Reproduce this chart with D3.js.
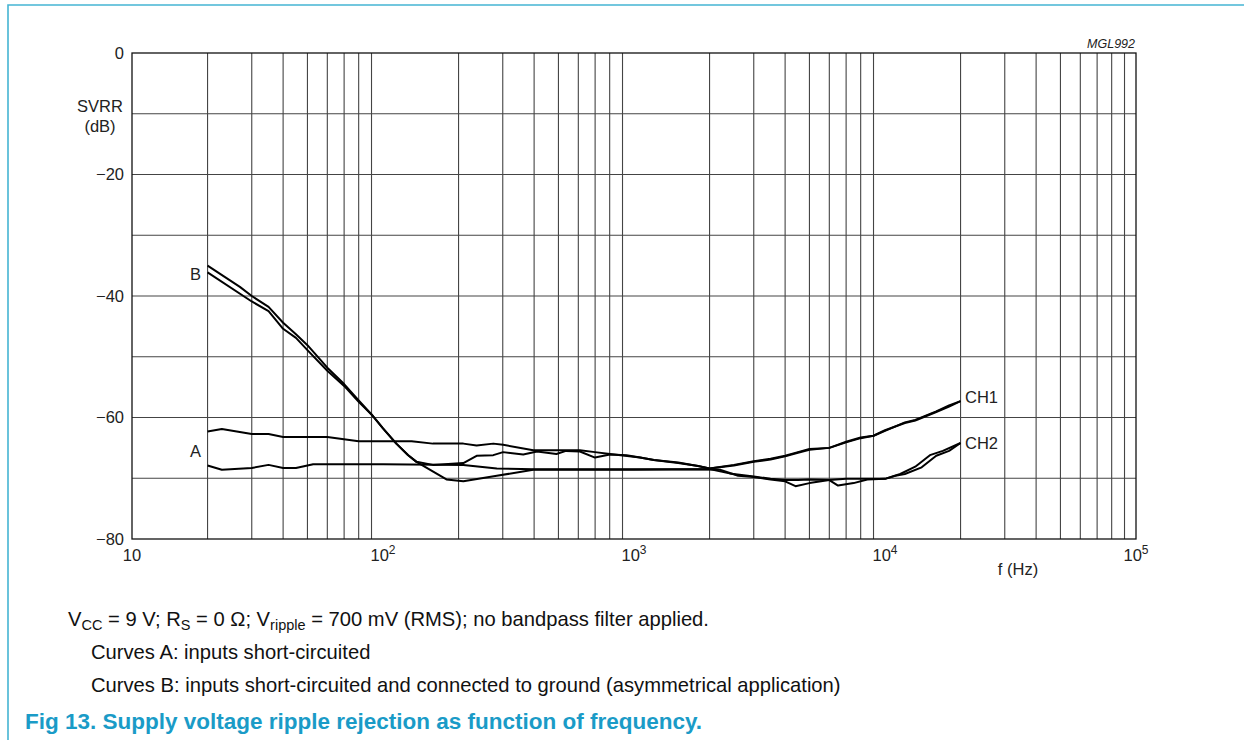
<!DOCTYPE html>
<html>
<head>
<meta charset="utf-8">
<script src="https://cdn.jsdelivr.net/npm/d3@7/dist/d3.min.js"></script>
<style>
  body { margin: 0; background: #fff; }
  svg { display: block; font-family: "Liberation Sans", Arial, sans-serif; }
</style>
</head>
<body>
<svg id="chart" width="1244" height="740"></svg>
<script>
// ---------- data ----------
const xTickValues = [10, 100, 1000, 10000, 100000];
const xTickExponents = ["", "2", "3", "4", "5"];
const yTickValues = [0, -20, -40, -60, -80];
const yTickLabels = ["0", "\u221220", "\u221240", "\u221260", "\u221280"];

// Curve A, channel 1 (upper A curve at low frequency)
const freqA1 = [20, 22.8, 30, 35, 40, 60, 80, 130, 158, 209, 236, 275, 301, 397, 609, 699, 802, 1057, 1200, 1500, 1800, 2000,
  2500, 3000, 3500, 4000, 4500, 5000, 6000, 7000, 8000, 9000, 10000, 12000, 13200, 16000, 18000, 20000];
const dbA1 = [-62.3, -61.9, -62.7, -62.7, -63.2, -63.2, -63.9, -63.9, -64.3, -64.3, -64.6, -64.3, -64.5, -65.4, -65.4, -65.7, -66.0, -66.6, -67.0, -67.5, -68.0, -68.4,
  -67.8, -67.2, -66.8, -66.3, -65.7, -65.2, -65.0, -64.0, -63.3, -63.0, -62.1, -60.9, -60.5, -59.1, -58.2, -57.3];

// Curve A, channel 2 (lower A curve at low frequency)
const freqA2 = [20, 22.8, 30, 35, 40, 45, 52.7, 100, 209, 284, 400, 1000, 2000,
  2400, 3000, 3500, 4000, 4500, 5000, 6000, 6500, 7500, 8500, 10000, 11500, 13200, 15100, 17000, 20000];
const dbA2 = [-67.9, -68.6, -68.3, -67.8, -68.3, -68.3, -67.7, -67.7, -67.8, -68.4, -68.5, -68.5, -68.5,
  -69.2, -69.7, -70.1, -70.3, -70.3, -70.2, -70.3, -71.2, -70.8, -70.2, -70.1, -69.3, -68.1, -66.2, -65.5, -64.2];

// Curve B, channel 1 (lower B curve at low frequency)
const freqB1 = [20, 30, 35, 40, 45, 50, 60, 70, 80, 90, 100, 113, 126, 136, 158, 209, 236, 275, 301, 362, 411, 491, 536, 609, 699, 802, 934, 1057, 1200, 1500, 1800, 2000,
  2500, 3000, 3500, 4000, 4500, 5000, 6000, 7000, 8000, 9000, 10000, 12000, 13200, 16000, 18000, 20000];
const dbB1 = [-36.1, -40.9, -42.5, -45.4, -46.9, -48.9, -52.3, -54.8, -57.4, -59.5, -61.8, -64.3, -66.2, -67.3, -67.8, -67.5, -66.3, -66.2, -65.7, -66.1, -65.6, -66.0, -65.5, -65.6, -66.6, -66.1, -66.2, -66.6, -67.0, -67.4, -68.0, -68.4,
  -67.9, -67.3, -66.9, -66.4, -65.8, -65.3, -65.0, -64.1, -63.4, -63.0, -62.2, -60.8, -60.4, -59.0, -58.0, -57.3];

// Curve B, channel 2 (upper B curve at low frequency)
const freqB2 = [20, 26.9, 30, 35, 40, 45, 50, 60, 70, 80, 90, 100, 113, 126, 136, 179, 209, 284, 397, 1000, 2000,
  2200, 2600, 3000, 3500, 4000, 4400, 5000, 6000, 7000, 8000, 10000, 11000, 12000, 14000, 16000, 18000, 20000];
const dbB2 = [-35.0, -38.5, -40.0, -41.8, -44.4, -46.3, -48.1, -51.8, -54.5, -57.2, -59.5, -61.8, -64.3, -66.2, -67.3, -70.2, -70.5, -69.6, -68.6, -68.6, -68.5,
  -68.6, -69.6, -69.8, -70.2, -70.5, -71.3, -70.8, -70.3, -70.1, -70.1, -70.1, -69.6, -69.3, -68.2, -66.3, -65.5, -64.2];

const curveLabels = ["B", "A", "CH1", "CH2"];
const curveLabelDb = [-36.5, -66.0, -57.3, -64.2];

// ---------- layout ----------
const svg = d3.select("#chart");
const plot = { left: 132, right: 1136, top: 53, bottom: 539 };

const x = d3.scaleLog().domain([10, 100000]).range([plot.left, plot.right]);
const y = d3.scaleLinear().domain([0, -80]).range([plot.top, plot.bottom]);

// page border (top + left)
svg.append("path")
  .attr("d", "M8,740 L8,5 L1244,5")
  .attr("fill", "none")
  .attr("stroke", "#45b5d3")
  .attr("stroke-width", 1.6);

// grid
const grid = svg.append("g");
const xGrid = [];
for (let d = 10; d < 100000; d *= 10) for (let m = 2; m <= 9; m++) xGrid.push(d * m);
grid.selectAll("line.vx").data(xGrid).enter().append("line")
  .attr("x1", d => x(d)).attr("x2", d => x(d))
  .attr("y1", plot.top).attr("y2", plot.bottom)
  .attr("stroke", "#444").attr("stroke-width", 1.1);
const yGrid = d3.range(-10, -80, -10);
grid.selectAll("line.hy").data(yGrid).enter().append("line")
  .attr("x1", plot.left).attr("x2", plot.right)
  .attr("y1", d => y(d)).attr("y2", d => y(d))
  .attr("stroke", "#444").attr("stroke-width", 1.1);

// frame
svg.append("rect")
  .attr("x", plot.left).attr("y", plot.top)
  .attr("width", plot.right - plot.left).attr("height", plot.bottom - plot.top)
  .attr("fill", "none").attr("stroke", "#111").attr("stroke-width", 1.3);

// y tick labels
svg.append("g").selectAll("text").data(yTickValues).enter().append("text")
  .attr("x", 124).attr("y", d => y(d) + 5.9)
  .attr("text-anchor", "end").attr("font-size", 16.5).attr("fill", "#222")
  .text((d, i) => yTickLabels[i]);

// x tick labels
const xl = svg.append("g").selectAll("text").data(xTickValues).enter().append("text")
  .attr("x", d => x(d)).attr("y", 561)
  .attr("text-anchor", "middle").attr("font-size", 16.5).attr("fill", "#222");
xl.append("tspan").text("10");
xl.append("tspan").attr("dy", -7).attr("font-size", 12).text((d, i) => xTickExponents[i]);

// axis titles
svg.append("text").attr("x", 100).attr("y", 112).attr("text-anchor", "middle")
  .attr("font-size", 16.5).attr("fill", "#222").text("SVRR");
svg.append("text").attr("x", 100).attr("y", 132).attr("text-anchor", "middle")
  .attr("font-size", 16.5).attr("fill", "#222").text("(dB)");
svg.append("text").attr("x", 1018).attr("y", 575).attr("text-anchor", "middle")
  .attr("font-size", 16.5).attr("fill", "#222").text("f (Hz)");
svg.append("text").attr("x", 1135).attr("y", 48).attr("text-anchor", "end")
  .attr("font-size", 12.5).attr("font-style", "italic").attr("fill", "#222").text("MGL992");

// curves
const line = d3.line().x(d => x(d[0])).y(d => y(d[1]));
const series = [
  d3.zip(freqA1, dbA1),
  d3.zip(freqA2, dbA2),
  d3.zip(freqB1, dbB1),
  d3.zip(freqB2, dbB2)
];
svg.append("g").selectAll("path").data(series).enter().append("path")
  .attr("d", line)
  .attr("fill", "none").attr("stroke", "#000").attr("stroke-width", 2)
  .attr("stroke-linejoin", "round");

// curve labels
svg.append("text").attr("x", 201).attr("y", y(curveLabelDb[0]) + 5.5).attr("text-anchor", "end")
  .attr("font-size", 16.5).attr("fill", "#222").text(curveLabels[0]);
svg.append("text").attr("x", 201).attr("y", y(curveLabelDb[1]) + 3.5).attr("text-anchor", "end")
  .attr("font-size", 16.5).attr("fill", "#222").text(curveLabels[1]);
svg.append("text").attr("x", 965).attr("y", y(curveLabelDb[2]) + 2).attr("text-anchor", "start")
  .attr("font-size", 16.5).attr("fill", "#222").text(curveLabels[2]);
svg.append("text").attr("x", 965).attr("y", y(curveLabelDb[3]) + 6).attr("text-anchor", "start")
  .attr("font-size", 16.5).attr("fill", "#222").text(curveLabels[3]);

// footer
const fs = 20.2;
const t1 = svg.append("text").attr("x", 68).attr("y", 626).attr("font-size", fs).attr("fill", "#111");
t1.append("tspan").text("V");
t1.append("tspan").attr("font-size", 14.5).attr("dy", 4).text("CC");
t1.append("tspan").attr("dy", -4).text(" = 9 V; R");
t1.append("tspan").attr("font-size", 14.5).attr("dy", 4).text("S");
t1.append("tspan").attr("dy", -4).text(" = 0 \u03A9; V");
t1.append("tspan").attr("font-size", 14.5).attr("dy", 4).text("ripple");
t1.append("tspan").attr("dy", -4).text(" = 700 mV (RMS); no bandpass filter applied.");

svg.append("text").attr("x", 91).attr("y", 658.5).attr("font-size", fs).attr("fill", "#111")
  .text("Curves A: inputs short-circuited");
svg.append("text").attr("x", 91).attr("y", 692).attr("font-size", fs).attr("fill", "#111")
  .text("Curves B: inputs short-circuited and connected to ground (asymmetrical application)");
svg.append("text").attr("x", 25).attr("y", 729).attr("font-size", 22.5).attr("font-weight", "bold")
  .attr("fill", "#1a9bc7")
  .attr("textLength", 677).attr("lengthAdjust", "spacing")
  .text("Fig 13. Supply voltage ripple rejection as function of frequency.");
</script>
</body>
</html>
